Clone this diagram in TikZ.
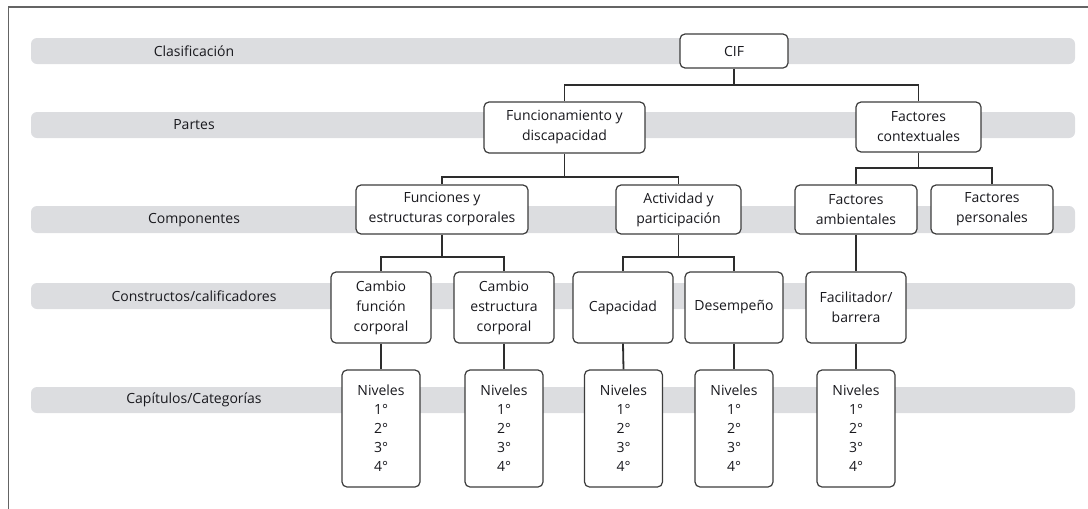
\documentclass[tikz,border=0pt]{standalone}
\usepackage{fontspec}
\setmainfont{Open Sans}
\definecolor{bandgray}{RGB}{220,221,224}
\definecolor{txt}{RGB}{25,25,30}
\definecolor{boxc}{RGB}{60,60,60}
\definecolor{linec}{RGB}{45,45,45}
\definecolor{framec}{RGB}{100,100,100}
\begin{document}
\begin{tikzpicture}[x=1pt,y=-1pt,
  band/.style={fill=bandgray, draw=none, rounded corners=6pt},
  lbl/.style={text=txt, font=\fontsize{14}{16}\selectfont, anchor=center, inner sep=0pt},
  box/.style={draw=boxc, line width=1.2pt, rounded corners=5pt, fill=white, text=txt,
    align=center, font=\fontsize{14}{20}\selectfont, inner sep=0pt},
  link/.style={draw=linec, line width=1.8pt}]
\useasboundingbox (0,0) rectangle (1088,509);
% frame
\draw[framec, line width=1.3pt] (8.5,509) -- (8.5,7) -- (1088,7);
% bands
\fill[band] (31,38) rectangle (1075,64);
\fill[band] (31,112) rectangle (1075,138);
\fill[band] (31,206) rectangle (1075,233);
\fill[band] (31,283) rectangle (1075,309);
\fill[band] (31,387) rectangle (1075,413);
% band labels
\node[lbl] (l1) at (194,51) {Clasificación};
\node[lbl] (l2) at (194,125) {Partes};
\node[lbl] (l3) at (194,220) {Componentes};
\node[lbl] (l4) at (194,296) {Constructos/calificadores};
\node[lbl] (l5) at (194,400) {Capítulos/Categorías};
% boxes
\node[box, minimum width=108pt, minimum height=34pt] (cif) at (734,51) {CIF};
\node[box, minimum width=161pt, minimum height=51pt] (func) at (564.5,127.5) {Funcionamiento y\\discapacidad};
\node[box, minimum width=125pt, minimum height=50pt] (cont) at (918.5,127) {Factores\\contextuales};
\node[box, minimum width=172pt, minimum height=49pt] (fye) at (442,209.5) {Funciones y\\estructuras corporales};
\node[box, minimum width=125pt, minimum height=49pt] (act) at (678.5,209.5) {Actividad y\\participación};
\node[box, minimum width=122pt, minimum height=49pt] (amb) at (856,209.5) {Factores\\ambientales};
\node[box, minimum width=122pt, minimum height=49pt] (per) at (992,209.5) {Factores\\personales};
\node[box, minimum width=100pt, minimum height=71pt] (cfc) at (381,307.5) {Cambio\\función\\corporal};
\node[box, minimum width=100pt, minimum height=71pt] (cec) at (504,307.5) {Cambio\\estructura\\corporal};
\node[box, minimum width=100pt, minimum height=71pt] (cap) at (623,307.5) {Capacidad};
\node[box, minimum width=98pt, minimum height=71pt] (des) at (734,307.5) {Desempeño};
\node[box, minimum width=100pt, minimum height=71pt] (fac) at (856,307.5) {Facilitador/\\barrera};
\foreach \nm/\xx in {n1/381, n2/504, n3/623.5, n4/734, n5/856}{
  \node[box, minimum width=78pt, minimum height=117pt, font=\fontsize{14}{19}\selectfont] (\nm) at (\xx,428.5) {Niveles\\1°\\2°\\3°\\4°};
}
% bar levels
\coordinate (b1) at (0,85);
\coordinate (b2) at (0,177);
\coordinate (b3) at (0,168);
\coordinate (b4) at (0,257);
% connectors
\draw[link] (cif.south) -- (cif.south |- b1) -| (func.north);
\draw[link] (cif.south |- b1) -| (cont.north);
\draw[link] (func.south) -- (func.south |- b2) -| (fye.north);
\draw[link] (func.south |- b2) -| (act.north);
\draw[link] (cont.south) -- (cont.south |- b3) -| (amb.north);
\draw[link] (cont.south |- b3) -| (per.north);
\draw[link] (fye.south) -- (fye.south |- b4) -| (cfc.north);
\draw[link] (fye.south |- b4) -| (cec.north);
\draw[link] (act.south) -- (act.south |- b4) -| (cap.north);
\draw[link] (act.south |- b4) -| (des.north);
\draw[link] (amb.south) -- (fac.north);
\draw[link] (cfc.south) -- (n1.north);
\draw[link] (cec.south) -- (n2.north);
\draw[link] (cap.south) -- (n3.north);
\draw[link] (des.south) -- (n4.north);
\draw[link] (fac.south) -- (n5.north);
\end{tikzpicture}
\end{document}
